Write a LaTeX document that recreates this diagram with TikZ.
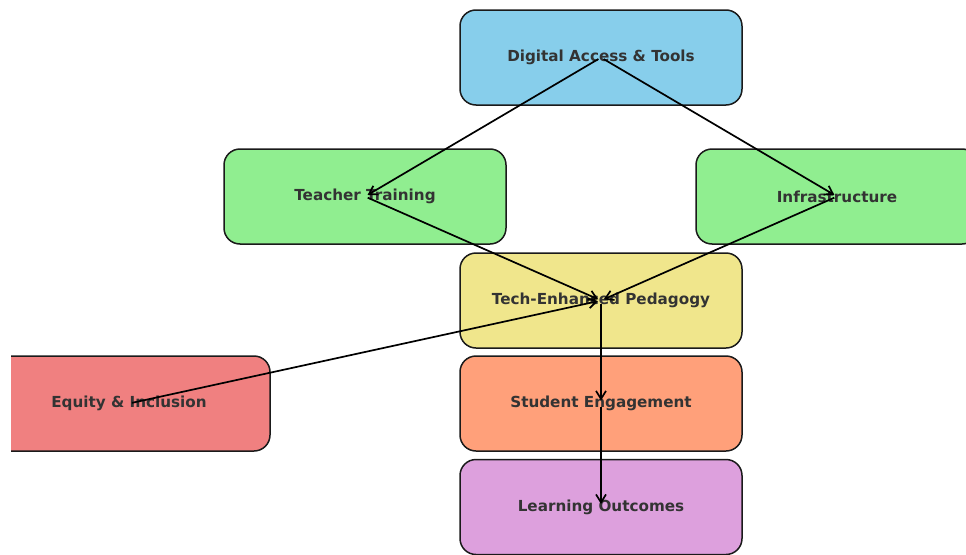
\documentclass[tikz,border=0pt]{standalone}
\usepackage{fontspec}
\setmainfont{DejaVu Sans}
\usetikzlibrary{arrows.meta}
\definecolor{accessblue}{HTML}{87CEEB}
\definecolor{traingreen}{HTML}{90EE90}
\definecolor{pedkhaki}{HTML}{F0E68C}
\definecolor{equitycoral}{HTML}{F08080}
\definecolor{engsalmon}{HTML}{FFA07A}
\definecolor{outplum}{HTML}{DDA0DD}
\definecolor{labelgray}{HTML}{333333}
\definecolor{edgegray}{HTML}{1A1A1A}
\begin{document}
\begin{tikzpicture}[x=1pt,y=-1pt,
  box/.style={draw=edgegray, line width=1.5pt, rounded corners=16pt,
    minimum width=282pt, minimum height=95pt, inner sep=0pt,
    font=\bfseries\fontsize{15.2}{18}\selectfont, text=labelgray},
  flow/.style={-{Straight Barb[length=8pt,width=10pt,line width=1.7pt]},
    line width=1.7pt, black, shorten >=3pt, shorten <=3pt}]
\useasboundingbox (0,0) rectangle (966,554);
% boxes, trimmed at the page edges
\begin{scope}
  \clip (11,0) rectangle (966,554);
  \node[box, fill=accessblue]  (access)   at (601,57.5)  {Digital Access \& Tools};
  \node[box, fill=traingreen]  (training) at (365,196.5) {Teacher Training};
  \node[box, fill=traingreen]  (infra)    at (837,196.5) {Infrastructure};
  \node[box, fill=pedkhaki]    (pedagogy) at (601,300.5) {Tech-Enhanced Pedagogy};
  \node[box, fill=equitycoral] (equity)   at (129,403.5) {Equity \& Inclusion};
  \node[box, fill=engsalmon]   (engage)   at (601,403.5) {Student Engagement};
  \node[box, fill=outplum]     (outcomes) at (601,507)   {Learning Outcomes};
\end{scope}
% influences, centre to centre
\draw[flow] (access.center)   -- (training.center);
\draw[flow] (access.center)   -- (infra.center);
\draw[flow] (training.center) -- (pedagogy.center);
\draw[flow] (infra.center)    -- (pedagogy.center);
\draw[flow] (equity.center)   -- (pedagogy.center);
\draw[flow] (pedagogy.center) -- (engage.center);
\draw[flow] (engage.center)   -- (outcomes.center);
\end{tikzpicture}
\end{document}
